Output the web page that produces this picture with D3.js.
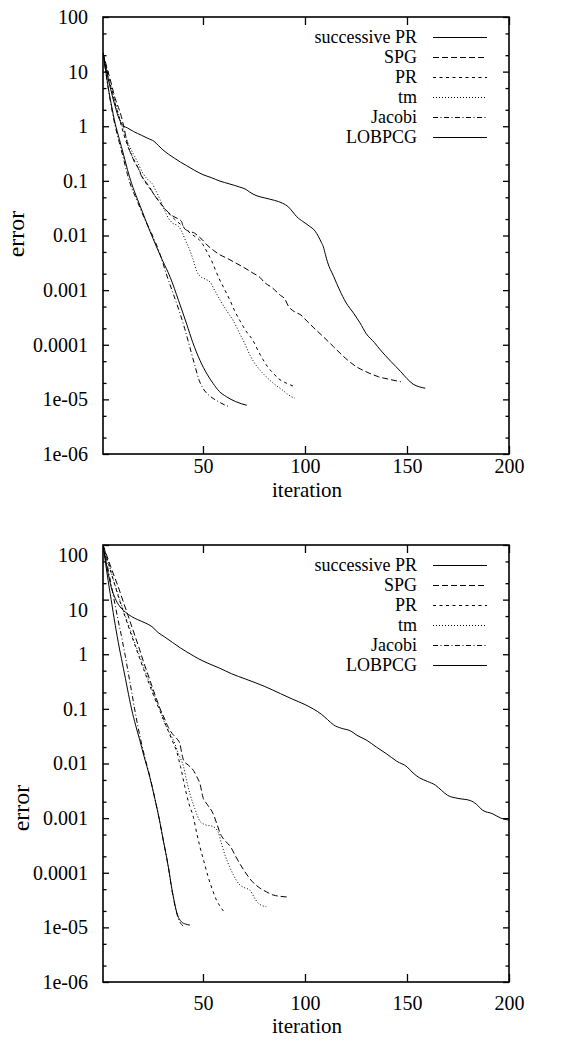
<!DOCTYPE html>
<html><head><meta charset="utf-8">
<script src="https://cdn.jsdelivr.net/npm/d3@7"></script>
<style>
body{margin:0;background:#fff}
svg text{font-family:"Liberation Serif","Times New Roman",Tinos,serif;fill:#000}
</style>
</head><body>
<svg id="c" width="561" height="1040"></svg>
<script>
// ---------- data ----------
const seriesNames = ["successive PR","SPG","PR","tm","Jacobi","LOBPCG"];
const yTickValues = [100,10,1,0.1,0.01,0.001,0.0001,1e-5,1e-6];
const yTickLabels = ["100","10","1","0.1","0.01","0.001","0.0001","1e-05","1e-06"];
const xTickValues = [50,100,150,200];
const xTickLabels = ["50","100","150","200"];
const xLabel = "iteration";
const yLabel = "error";

// top panel: [iteration, error]
const topSuccessivePR = [[1,22],[2,14],[3,9],[4,6.2],[5,4.4],[6,3.1],[7,2.3],[8,1.7],[9,1.35],[10,1.12],[11,1.02],[13,0.93],[16,0.8],[20,0.68],[23,0.6],[26,0.53],[28,0.45],[30,0.38],[33,0.31],[36,0.26],[39,0.22],[42,0.19],[46,0.155],[50,0.13],[54,0.115],[58,0.1],[63,0.088],[68,0.077],[71,0.07],[73,0.062],[76,0.054],[80,0.049],[85,0.044],[89,0.039],[92,0.033],[94,0.027],[96,0.022],[99,0.018],[102,0.015],[105,0.012],[108,0.0075],[109,0.0062],[110,0.0045],[111,0.0033],[114,0.0018],[117,0.001],[120,0.0006],[124,0.00037],[127,0.00025],[130,0.00016],[134,0.00011],[137,0.00008],[142,0.00005],[147,0.000032],[150,0.000024],[153,0.000019],[156,0.000017],[159,0.000016]];
const topSPG = [[1,22],[2,16],[3,11.5],[4,8.5],[5,6.2],[6,4.4],[7,3.2],[8,2.5],[9,2],[10,1.5],[11,1.05],[12,0.7],[13,0.48],[14,0.36],[15,0.3],[16,0.24],[18,0.18],[20,0.12],[22,0.095],[24,0.075],[26,0.056],[29,0.04],[32,0.029],[35,0.023],[38,0.02],[39.5,0.018],[40.5,0.014],[43,0.012],[46,0.011],[48,0.0095],[49.5,0.0085],[52,0.0067],[55,0.0054],[58,0.0045],[62,0.0038],[65,0.0033],[70,0.0026],[75,0.002],[78,0.0017],[80,0.0014],[84,0.0011],[88,0.0008],[90,0.0007],[92,0.0005],[95,0.0004],[98,0.00035],[101,0.00027],[104,0.00021],[109,0.00014],[114,0.000092],[120,0.000056],[125,0.00004],[130,0.000032],[136,0.000026],[142,0.000023],[147,0.000021]];
const topPR = [[1,22],[3,10],[5,5],[7,2.6],[9,1.4],[11,0.75],[13,0.45],[15,0.3],[17,0.21],[19,0.15],[21,0.105],[24,0.072],[27,0.05],[30,0.035],[33,0.026],[36,0.02],[39,0.016],[42,0.0126],[45,0.0102],[48,0.0085],[50,0.0068],[52,0.005],[54,0.0036],[56,0.0024],[58,0.0016],[60.5,0.00105],[63,0.00068],[65.5,0.00042],[68,0.00028],[71,0.00018],[74.5,0.00012],[77,0.000078],[79.5,0.000053],[82,0.000038],[84.5,0.00003],[87,0.000024],[89.5,0.000021],[92,0.000019],[95,0.000017]];
const topTm = [[1,22],[3,10.5],[5,5.2],[7,2.7],[9,1.5],[11,0.85],[13,0.52],[15,0.36],[17,0.26],[19,0.18],[21,0.13],[23,0.105],[25,0.09],[27,0.065],[29,0.045],[31,0.03],[33,0.021],[35,0.017],[38,0.0148],[40,0.011],[41.5,0.008],[43,0.006],[45,0.0038],[47,0.0022],[48.5,0.0018],[51,0.0016],[53.5,0.0014],[56,0.00095],[58.5,0.00065],[62,0.0004],[65,0.00027],[68,0.00016],[70.5,0.000105],[73,0.000065],[75,0.000048],[78,0.000034],[81,0.000026],[85,0.000019],[89,0.0000148],[92,0.000012],[95,0.0000105]];
const topJacobi = [[1,22],[2,12],[3,6.8],[4,3.9],[5,2.4],[6,1.5],[7,1.0],[8,0.7],[9,0.5],[11,0.26],[13,0.13],[15,0.075],[17,0.05],[19,0.033],[22,0.018],[25.5,0.0096],[29,0.0045],[32,0.002],[35,0.00095],[38.5,0.0004],[41,0.0002],[43.5,0.000092],[46,0.000042],[48,0.000023],[50,0.000016],[52,0.0000128],[55,0.0000104],[58,0.0000089],[61,0.0000078],[63,0.0000073]];
const topLOBPCG = [[1,22],[2,12.5],[3,7],[4,4.1],[5,2.6],[6,1.65],[7,1.1],[8,0.8],[9,0.58],[11,0.31],[13,0.16],[15,0.09],[18,0.045],[20.5,0.026],[24,0.012],[27,0.0065],[30,0.0036],[34,0.0017],[38,0.00065],[42,0.00024],[45,0.00011],[48.5,0.000052],[52,0.000029],[55,0.0000195],[58,0.000014],[61.5,0.0000112],[66,0.0000091],[71.5,0.0000078]];

// bottom panel: [iteration, error]
const botSuccessivePR = [[1,100],[2,62],[3,38],[4,25],[5,17],[6,13],[7,10.5],[8,8.8],[9,7.7],[10,6.9],[12,5.9],[15,4.9],[18,4.3],[22,3.7],[25,3.2],[28,2.5],[31,2.1],[35,1.65],[39,1.3],[44,1.0],[48,0.82],[53,0.67],[58,0.56],[64,0.44],[71,0.35],[80,0.26],[88,0.19],[94,0.15],[100,0.12],[104,0.1],[108,0.08],[111,0.064],[114,0.051],[118,0.044],[122,0.04],[126,0.032],[130,0.027],[135,0.02],[140,0.015],[145,0.011],[150,0.0087],[153,0.0067],[156,0.0055],[160,0.0047],[164,0.004],[167,0.0032],[170,0.0026],[175,0.0023],[181,0.0021],[184,0.0018],[187,0.0014],[192,0.0012],[196,0.001],[200,0.00092]];
const botSPG = [[1,100],[3,62],[5,38],[7,24],[9,15],[11,9],[13,5.5],[15,3.3],[17,2],[19,1.2],[21,0.7],[23,0.43],[25,0.26],[27,0.16],[29,0.1],[31,0.068],[33,0.046],[35,0.035],[37,0.029],[38.7,0.023],[39.5,0.016],[40.5,0.0115],[43,0.0092],[45.3,0.0075],[47,0.0057],[48.5,0.0043],[50,0.0024],[52,0.0018],[55,0.0012],[57,0.00075],[58.5,0.00052],[61,0.00038],[63.5,0.0003],[66,0.0002],[70,0.000112],[74,0.00007],[78,0.000052],[81,0.000045],[84.5,0.000039],[88,0.000037],[91,0.000036]];
const botPR = [[1,100],[3,56],[5,31],[7,17.5],[9,10],[11,6],[13,3.6],[15,2.2],[17,1.35],[19,0.83],[21,0.52],[23,0.33],[25,0.21],[27,0.135],[29,0.09],[32,0.048],[35,0.026],[37,0.017],[39,0.0088],[41,0.0039],[43,0.0019],[45.3,0.00104],[47,0.00052],[48.5,0.0003],[50.5,0.00016],[52.5,0.000085],[55,0.000045],[56.7,0.000031],[58.5,0.000024],[60,0.00002]];
const botTm = [[1,100],[3,57],[5,32],[7,18],[9,10.5],[11,6.3],[13,3.9],[15,2.4],[17,1.45],[19,0.92],[21,0.57],[23,0.36],[25,0.23],[27,0.145],[29,0.098],[30.5,0.065],[33,0.04],[35.5,0.027],[38,0.015],[40.5,0.0087],[42,0.0048],[43.6,0.0028],[46,0.0015],[48.5,0.00088],[51,0.00076],[55,0.0007],[57.5,0.00055],[59,0.00035],[61,0.0002],[63,0.00013],[65,0.00009],[67.5,0.000063],[70,0.000054],[73,0.000048],[75,0.000036],[77,0.000028],[79,0.000025],[81,0.000024]];
const botJacobi = [[1,100],[2,68],[3,45],[4,29],[5,19],[6,12],[7,7.8],[8,5],[9,3.3],[10,2.2],[11,1.4],[12,0.9],[13,0.55],[14,0.34],[15,0.21],[16.5,0.1],[18,0.05],[19.5,0.027],[21.5,0.013],[24,0.0057],[26.5,0.0022],[29,0.0008],[30.5,0.0004],[32.2,0.00019],[33.5,0.0001],[34.6,0.000052],[35.5,0.000035],[37,0.000019],[38.5,0.000013],[40.4,0.0000105]];
const botLOBPCG = [[1,100],[2,55],[3,30],[4,17],[5,10],[6,5.8],[7,3.4],[8,2.1],[9,1.3],[10,0.85],[11,0.55],[12,0.36],[13,0.23],[15,0.1],[17,0.05],[19,0.027],[21,0.014],[24,0.0055],[26.5,0.0022],[29,0.0008],[30.5,0.0004],[32.2,0.00019],[33.5,0.0001],[34.6,0.000055],[35.5,0.000036],[37.1,0.000019],[39.5,0.0000126],[41.5,0.0000115],[43.6,0.000011]];

// ---------- drawing ----------
const dashes = [null,"6,3","3,3.5","1,2","5,2.5,1,2.5",null];
const panels = [
  {top:17, bottom:454, series:[topSuccessivePR,topSPG,topPR,topTm,topJacobi,topLOBPCG],
   xPad:5, xTitleY:497, yTitle:[18.5,234], bigShift:0},
  {top:545, bottom:982, series:[botSuccessivePR,botSPG,botPR,botTm,botJacobi,botLOBPCG],
   xPad:13.5, xTitleY:1033, yTitle:[24,808], bigShift:10}
];
const left = 103, right = 509;
const svg = d3.select("#c");
const minorTicks = [];
d3.range(-6,2).forEach(e => { minorTicks.push(2*Math.pow(10,e), 5*Math.pow(10,e)); });

panels.forEach((p,pi) => {
  const x = d3.scaleLinear().domain([1,200]).range([left,right]);
  const y = d3.scaleLog().domain([1e-6,100]).range([p.bottom,p.top]);
  const g = svg.append("g");
  const clipId = "clip"+pi;
  g.append("clipPath").attr("id",clipId).append("rect")
    .attr("x",left).attr("y",p.top).attr("width",right-left).attr("height",p.bottom-p.top);

  const yl = g.append("g").attr("transform",`translate(${left},0)`)
    .call(d3.axisLeft(y).tickValues(yTickValues).tickSize(-6).tickSizeOuter(0).tickPadding(15)
      .tickFormat((d,i)=>yTickLabels[i]));
  yl.attr("font-family",null).select(".domain").remove();
  yl.selectAll("text").attr("font-size",20)
    .attr("dy", d => (d>=10 ? (0.32*20+p.bigShift) : 0.32*20) + "px");
  g.append("g").attr("transform",`translate(${left},0)`)
    .call(d3.axisLeft(y).tickValues(minorTicks).tickSize(-3.5).tickSizeOuter(0).tickFormat(""))
    .select(".domain").remove();
  g.append("g").attr("transform",`translate(${right},0)`)
    .call(d3.axisRight(y).tickValues(yTickValues).tickSize(-6).tickSizeOuter(0).tickFormat(""))
    .select(".domain").remove();
  g.append("g").attr("transform",`translate(${right},0)`)
    .call(d3.axisRight(y).tickValues(minorTicks).tickSize(-3.5).tickSizeOuter(0).tickFormat(""))
    .select(".domain").remove();
  const xb = g.append("g").attr("transform",`translate(0,${p.bottom})`)
    .call(d3.axisBottom(x).tickValues(xTickValues).tickSize(-8).tickSizeOuter(0).tickPadding(p.xPad)
      .tickFormat((d,i)=>xTickLabels[i]));
  xb.attr("font-family",null).select(".domain").remove();
  xb.selectAll("text").attr("font-size",20);
  g.append("g").attr("transform",`translate(0,${p.top})`)
    .call(d3.axisTop(x).tickValues(xTickValues).tickSize(-8).tickSizeOuter(0).tickFormat(""))
    .select(".domain").remove();
  g.selectAll(".tick line").attr("stroke","#000").attr("stroke-width",1.3);

  const line = d3.line().x(d=>x(d[0])).y(d=>y(d[1])).curve(d3.curveMonotoneX);
  p.series.forEach((s,i) => {
    g.append("path").attr("clip-path",`url(#${clipId})`)
      .attr("d",line(s)).attr("fill","none").attr("stroke","#000").attr("stroke-width",1)
      .attr("stroke-dasharray",dashes[i]);
  });

  g.append("rect").attr("x",left).attr("y",p.top).attr("width",right-left).attr("height",p.bottom-p.top)
    .attr("fill","none").attr("stroke","#000").attr("stroke-width",1.6);

  seriesNames.forEach((name,i) => {
    const ry = p.top + 20.5 + i*20;
    g.append("text").attr("x",417).attr("y",ry).attr("dy","0.33em")
      .attr("text-anchor","end").attr("font-size",18).text(name);
    g.append("line").attr("x1",433).attr("x2",487).attr("y1",ry).attr("y2",ry)
      .attr("stroke","#000").attr("stroke-width",1).attr("stroke-dasharray",dashes[i]);
  });

  g.append("text").attr("x",(left+right)/2+1).attr("y",p.xTitleY)
    .attr("text-anchor","middle").attr("font-size",21).text(xLabel);
  g.append("text").attr("transform",`translate(${p.yTitle[0]},${p.yTitle[1]}) rotate(-90)`)
    .attr("dy","0.225em").attr("text-anchor","middle").attr("font-size",24).text(yLabel);
});
</script>
</body></html>
